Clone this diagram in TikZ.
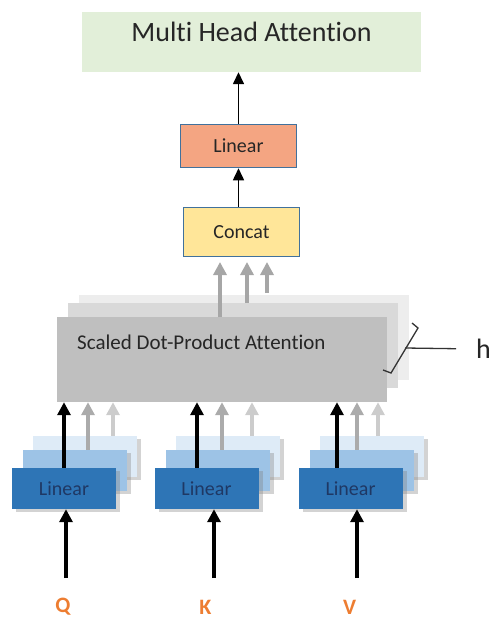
\documentclass[tikz,border=0pt]{standalone}
\usepackage{fontspec}
\setmainfont{Carlito}[Ligatures={NoCommon,TeX}]
\usepackage{tikz}
\usetikzlibrary{arrows.meta,shadows}

\definecolor{mhagreen}{HTML}{E2EFD9}
\definecolor{linorange}{HTML}{F4A582}
\definecolor{catyellow}{HTML}{FFE699}
\definecolor{boxborder}{HTML}{41719C}
\definecolor{darktext}{HTML}{262626}
\definecolor{sdpafront}{HTML}{BFBFBF}
\definecolor{sdpamid}{HTML}{D9D9D9}
\definecolor{sdpaback}{HTML}{EDEDED}
\definecolor{bluefront}{HTML}{2E75B6}
\definecolor{bluemid}{HTML}{9DC3E6}
\definecolor{blueback}{HTML}{DEEBF7}
\definecolor{navytext}{HTML}{1F3864}
\definecolor{qkvorange}{HTML}{ED7D31}

\begin{document}
\begin{tikzpicture}[x=1pt,y=-1pt,
    box/.style={draw=boxborder, line width=1.5pt, minimum width=116pt, inner sep=0pt, text=darktext, font=\fontsize{20}{24}\selectfont},
    sdpabox/.style={minimum width=330pt, minimum height=85pt, inner sep=0pt},
    linbox/.style={minimum width=104pt, minimum height=41pt, inner sep=0pt, drop shadow={shadow xshift=4pt, shadow yshift=-3pt, opacity=.35}},
    toparrow/.style={-{Triangle[width=11pt,length=12pt]}, line width=1.5pt, black},
    linarrow/.style={-{Triangle[width=13pt,length=13pt]}, line width=3.5pt, black},
    grayarrow/.style={-{Triangle[width=13pt,length=13pt]}, line width=3.5pt},
    qkv/.style={text=qkvorange, font=\bfseries\fontsize{22}{26}\selectfont, inner sep=0pt}
]
\useasboundingbox (0,0) rectangle (494,623);

% top
\node[fill=mhagreen, minimum width=339pt, minimum height=60pt, inner sep=0pt, text=darktext, font=\fontsize{28}{32}\selectfont, text height=20pt, text depth=20pt] (mha) at (251.5,42) {Multi Head Attention};
\node[box, fill=linorange, minimum height=43pt] (outlin) at (238.5,146) {Linear};
\node[box, fill=catyellow, minimum height=49pt] (concat) at (241.5,232) {Concat};

\draw[toparrow] (outlin.north) -- (outlin.north |- mha.south);
\draw[toparrow] (outlin.south |- concat.north) -- (outlin.south);

% attention heads
\node[sdpabox, fill=sdpaback] (sdpa3) at (244,337.5) {};
\node[sdpabox, fill=sdpamid] (sdpa2) at (233,345.5) {};
\node[sdpabox, fill=sdpafront] (sdpa) at (222,359.5) {};
\node[anchor=west, inner sep=0pt, text=darktext, font=\fontsize{21}{25}\selectfont] (sdpatext) at (77,342) {Scaled Dot-Product Attention};

\draw[grayarrow, color=black!35] (267,293) -- (267,262);
\draw[grayarrow, color=black!35] (247,303) -- (247,262);
\draw[grayarrow, color=black!35, line width=4pt] (220,317) -- (220,262);

% brace and h
\draw[line width=1.3pt, black!80] (412,323) -- (418,328) -- (391,373) -- (383,370);
\coordinate (bmid) at (405,348);
\node[anchor=west, inner sep=0pt, text=darktext, font=\fontsize{28}{32}\selectfont] (h) at (476,349) {h};
\draw[line width=1.3pt, black!80, shorten >=20pt] (bmid) -- (h.west);

% linear layers and inputs
\foreach \n/\x/\lbl/\a/\b/\c/\d in {q/64/Q/0/24/49/3, k/206.5/K/-9.5/15.5/45.5/8.5, v/350.5/V/-13.5/6.5/27.5/7.5}{
    \node[linbox, fill=blueback] (\n-back) at (\x+21,456.5) {};
    \node[linbox, fill=bluemid] (\n-mid) at (\x+11,470.5) {};
    \node[linbox, fill=bluefront, text=navytext, font=\fontsize{20}{24}\selectfont] (\n-lin) at (\x,488.5) {Linear};
    \draw[grayarrow, color=black!20] ([xshift=\c pt]\n-lin.north |- \n-back.north) -- ([xshift=\c pt]\n-lin.north |- sdpa.south);
    \draw[grayarrow, color=black!33] ([xshift=\b pt]\n-lin.north |- \n-mid.north) -- ([xshift=\b pt]\n-lin.north |- sdpa.south);
    \draw[linarrow] ([xshift=\a pt]\n-lin.north) -- ([xshift=\a pt]\n-lin.north |- sdpa.south);
    \node[qkv] (\n-in) at (\x-1,607) {\lbl};
    \draw[linarrow, shorten <=29pt] ([xshift=\d pt]\n-in.center) -- ([xshift=\d pt]\n-in.center |- \n-lin.south);
}

\end{tikzpicture}
\end{document}
